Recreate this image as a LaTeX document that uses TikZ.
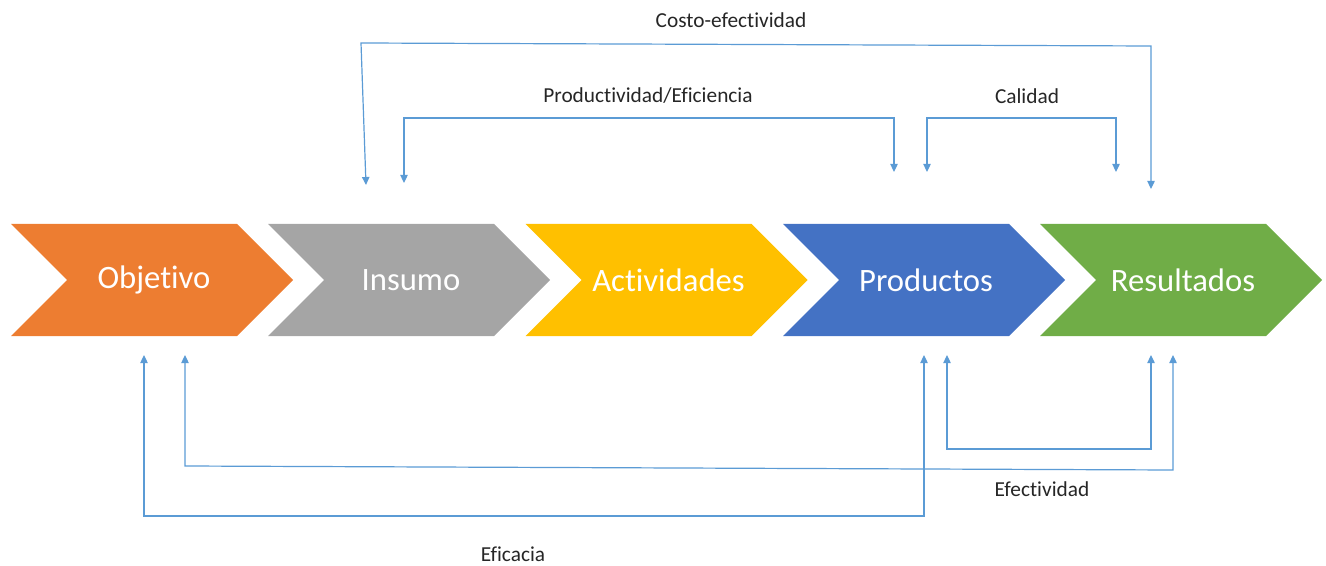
\documentclass[tikz,border=0pt]{standalone}
\usepackage{fontspec}
\setmainfont{Carlito}[RawFeature={-liga;-clig;-dlig}]
\usepackage{xcolor}
\usetikzlibrary{arrows.meta}
\definecolor{objcol}{HTML}{ED7D31}
\definecolor{inscol}{HTML}{A5A5A5}
\definecolor{actcol}{HTML}{FFC000}
\definecolor{procol}{HTML}{4472C4}
\definecolor{rescol}{HTML}{70AD47}
\definecolor{linkcol}{HTML}{5B9BD5}

\begin{document}
\begin{tikzpicture}[x=0.75pt,y=-0.75pt,
    chev/.style = {font=\fontsize{24.5}{29}\selectfont,text=white},
    lbl/.style = {font=\fontsize{16}{19}\selectfont,text=black!85,inner sep=1pt},
    link/.style = {draw=linkcol,line width=0.9pt,
      {Triangle[length=6pt,width=5.5pt]}-{Triangle[length=6pt,width=5.5pt]}}]
  \useasboundingbox (0,0) rectangle (1326,566);
  \foreach \x/\col/\txt/\nm in {11/objcol/Objetivo/obj, 268/inscol/Insumo/ins,
      525.5/actcol/Actividades/act, 783/procol/Productos/pro, 1040/rescol/Resultados/res}{
    \fill[\col] (\x,224) -- ++(226,0) -- ++(56,56) -- ++(-56,56) -- ++(-226,0) -- ++(56,-56) -- cycle;
    \node[chev] (\nm) at (\x+143,280) {\txt};
  }
  % top links
  \coordinate (ce0) at (366,185);
  \coordinate (ce1) at (361,43);
  \coordinate (ce2) at (1151,46);
  \coordinate (ce3) at (1151,189);
  \draw[link] (ce0) -- (ce1) -- (ce2) -- (ce3);
  \node[lbl] (ce) at (731,20) {Costo-efectividad};
  \coordinate (pe0) at (404,183);
  \coordinate (pe1) at (404,118);
  \coordinate (pe2) at (894,118);
  \coordinate (pe3) at (894,172);
  \draw[link] (pe0) -- (pe1) -- (pe2) -- (pe3);
  \node[lbl] (pe) at (648,96) {Productividad/Eficiencia};
  \coordinate (ca0) at (927,172);
  \coordinate (ca1) at (927,118);
  \coordinate (ca2) at (1116,118);
  \coordinate (ca3) at (1116,172);
  \draw[link] (ca0) -- (ca1) -- (ca2) -- (ca3);
  \node[lbl] (ca) at (1027,96) {Calidad};
  % bottom links
  \coordinate (ez0) at (144,355);
  \coordinate (ez1) at (144,516);
  \coordinate (ez2) at (924,516);
  \coordinate (ez3) at (924,355);
  \draw[link] (ez0) -- (ez1) -- (ez2) -- (ez3);
  \node[lbl] (ez) at (513,554) {Eficacia};
  \coordinate (ev0) at (185,355);
  \coordinate (ev1) at (185,466);
  \coordinate (ev2) at (1173,470);
  \coordinate (ev3) at (1173,355);
  \draw[link] (ev0) -- (ev1) -- (ev2) -- (ev3);
  \node[lbl] (ev) at (1042,489) {Efectividad};
  \coordinate (pr0) at (947,355);
  \coordinate (pr1) at (947,449);
  \coordinate (pr2) at (1151,449);
  \coordinate (pr3) at (1151,355);
  \draw[link] (pr0) -- (pr1) -- (pr2) -- (pr3);
\end{tikzpicture}
\end{document}
